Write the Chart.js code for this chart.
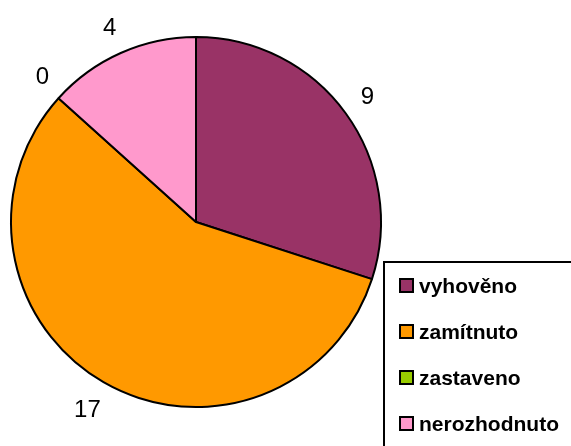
<!DOCTYPE html>
<html>
<head>
<meta charset="utf-8">
<script src="https://cdn.jsdelivr.net/npm/chart.js@4.4.0/dist/chart.umd.min.js"></script>
<style>
  html, body { margin: 0; padding: 0; background: #fff; }
  #wrap { position: relative; width: 571px; height: 446px; }
</style>
</head>
<body>
<div id="wrap"><canvas id="pieChart" width="571" height="446"></canvas></div>
<script>
// Values
const categories = ['vyhověno', 'zamítnuto', 'zastaveno', 'nerozhodnuto'];
const counts = [9, 17, 0, 4];
const sliceColors = ['#993366', '#FF9900', '#99CC00', '#FF99CC'];

// Draws the value next to each slice, outside the pie
const outsideLabels = {
    id: 'outsideLabels',
    afterDatasetsDraw(chart) {
        const ctx = chart.ctx;
        const meta = chart.getDatasetMeta(0);
        ctx.save();
        ctx.font = '24px "Liberation Sans", Arial, sans-serif';
        ctx.fillStyle = '#000';
        ctx.textAlign = 'center';
        ctx.textBaseline = 'middle';
        meta.data.forEach((arc, i) => {
            const mid = (arc.startAngle + arc.endAngle) / 2;
            // a bit more room below, where the label box sits lower
            const dist = arc.outerRadius + 27 + Math.max(0, Math.sin(mid)) * 6;
            const x = arc.x + Math.cos(mid) * dist;
            const y = arc.y + Math.sin(mid) * dist;
            ctx.fillText(String(counts[i]), x + (i === 2 ? 4 : 0), y - (i === 2 ? 3 : 0));
        });
        ctx.restore();
    }
};

// Boxed legend in the lower right corner, drawn like the original
const boxLegend = {
    id: 'boxLegend',
    afterDraw(chart) {
        const ctx = chart.ctx;
        ctx.save();
        ctx.strokeStyle = '#000';
        ctx.lineWidth = 2;
        ctx.strokeRect(384, 262, 200, 200);
        ctx.font = 'bold 21px "Liberation Sans", Arial, sans-serif';
        ctx.textBaseline = 'alphabetic';
        ctx.textAlign = 'left';
        categories.forEach((name, i) => {
            const top = 279 + i * 46;
            ctx.fillStyle = sliceColors[i];
            ctx.fillRect(400, top, 13, 13);
            ctx.lineWidth = 2;
            ctx.strokeRect(400, top, 13, 13);
            ctx.fillStyle = '#000';
            ctx.fillText(name, 419, top + 14);
        });
        ctx.restore();
    }
};

document.addEventListener('DOMContentLoaded', function () {
    const pieCtx = document.getElementById('pieChart').getContext('2d');
    const pieChart = new Chart(pieCtx, {
        type: 'pie',
        data: {
            labels: categories,
            datasets: [{
                data: counts,
                backgroundColor: sliceColors,
                borderColor: '#000',
                borderWidth: 2
            }]
        },
        options: {
            responsive: false,
            animation: false,
            layout: { padding: { left: 10, right: 189, top: 36, bottom: 38 } },
            plugins: {
                legend: { display: false },
                tooltip: { enabled: false }
            }
        },
        plugins: [outsideLabels, boxLegend]
    });
});
</script>
</body>
</html>
